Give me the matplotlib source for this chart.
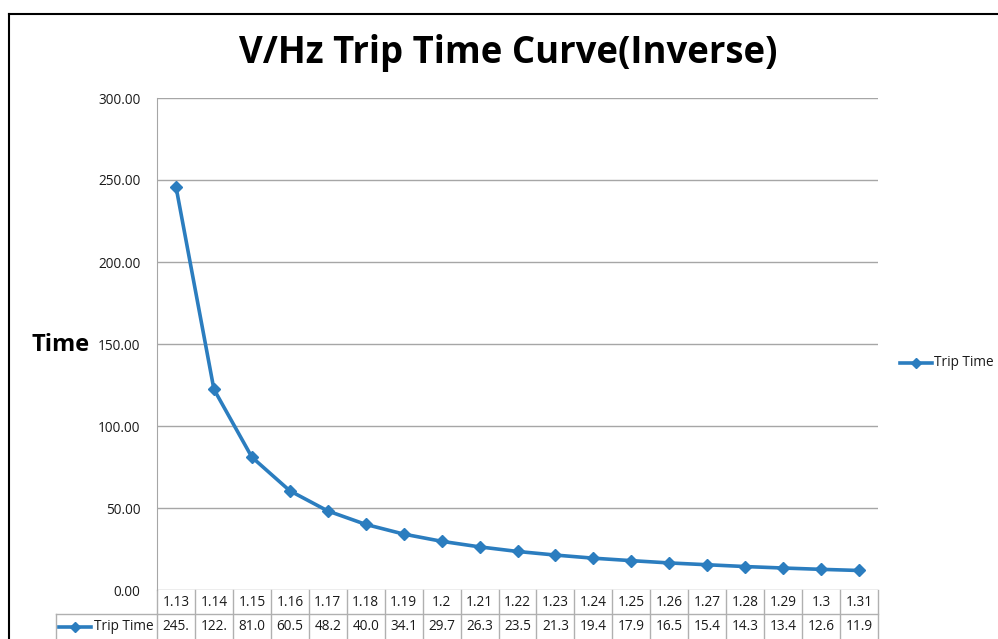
import matplotlib.pyplot as plt
from matplotlib.lines import Line2D
import numpy as np

# data
ratio = ["1.13", "1.14", "1.15", "1.16", "1.17", "1.18", "1.19", "1.2", "1.21", "1.22",
         "1.23", "1.24", "1.25", "1.26", "1.27", "1.28", "1.29", "1.3", "1.31"]
trip_time = [245.9, 122.4, 81.0, 60.5, 48.2, 40.0, 34.1, 29.7, 26.3, 23.5,
             21.3, 19.4, 17.9, 16.5, 15.4, 14.3, 13.4, 12.6, 11.9]
yticks = [0, 50, 100, 150, 200, 250, 300]

blue = "#2b7dbf"
grid_c = "#a6a6a6"
txt_c = "#1a1a1a"
font = "Open Sans"
fs = 9.8

W, H = 998, 639
fig = plt.figure(figsize=(W / 100, H / 100), dpi=100)

# outer chart border (top and left)
fig.add_artist(Line2D([9 / W, 9 / W], [0, 1 - 13.5 / H], color="black", lw=1.5))
fig.add_artist(Line2D([9 / W, 1], [1 - 13.5 / H, 1 - 13.5 / H], color="black", lw=1.5))

ax = fig.add_axes([157 / W, 1 - 590 / H, (878 - 157) / W, (590 - 98) / H])
x = np.arange(len(ratio))
ax.plot(x, trip_time, color=blue, lw=2.6, marker="D", ms=6.5, mec=blue, mfc=blue)
ax.set_xlim(-0.5, len(ratio) - 0.5)
ax.set_ylim(0, 300)
ax.set_yticks(yticks)
ax.set_yticklabels([f"{v:.2f}" for v in yticks], fontsize=fs, family=font, color=txt_c)
ax.tick_params(axis="y", length=0, pad=12)
ax.set_xticks([])
for s in ["top", "right", "bottom"]:
    ax.spines[s].set_visible(False)
ax.spines["left"].set_color(grid_c)
for v in yticks:
    ax.axhline(v, color=grid_c, lw=1, zorder=0)

# data table under the plot
tr = ax.get_xaxis_transform()
r1_top, r1_bot, r2_bot = 0.0, -24 / 492, -50 / 492
lc = "#b0b0b0"
for i, (r, t) in enumerate(zip(ratio, trip_time)):
    ax.text(i, (r1_top + r1_bot) / 2, r, transform=tr, ha="center", va="center",
            fontsize=fs, family=font, color=txt_c, clip_on=False)
    ax.text(i, (r1_bot + r2_bot) / 2 + 0.001, f"{t:.1f}"[:4], transform=tr, ha="center",
            va="center", fontsize=fs, family=font, color=txt_c, clip_on=False)
for i in range(len(ratio) + 1):
    ax.plot([i - 0.5, i - 0.5], [r1_top, r2_bot], transform=tr, color=lc, lw=1, clip_on=False)
ax.plot([-0.5, len(ratio) - 0.5], [r1_bot, r1_bot], transform=tr, color=lc, lw=1, clip_on=False)
# legend-key cell of the table
fig.add_artist(Line2D([55.5 / W, 157 / W], [1 - 614 / H] * 2, color=lc, lw=1))
fig.add_artist(Line2D([55.5 / W, 55.5 / W], [0, 1 - 614 / H], color=lc, lw=1))
fig.add_artist(Line2D([59 / W, 91 / W], [1 - 627 / H] * 2, color=blue, lw=2.6))
fig.add_artist(Line2D([75 / W], [1 - 627 / H], color=blue, marker="D", ms=5, lw=0))
fig.text(94 / W, 1 - 627 / H, "Trip Time", fontsize=fs, family=font, color=txt_c,
         va="center")

# title and axis label
fig.text(508 / W, 1 - 53 / H, "V/Hz Trip Time Curve(Inverse)", fontsize=26.3,
         fontweight="bold", family=font, ha="center", va="center")
fig.text(61 / W, 1 - 345 / H, "Time", fontsize=17, fontweight="bold", family=font,
         ha="center", va="center")

# legend on the right
fig.add_artist(Line2D([900 / W, 932 / W], [1 - 363 / H] * 2, color=blue, lw=2.6))
fig.add_artist(Line2D([916 / W], [1 - 363 / H], color=blue, marker="D", ms=5, lw=0))
fig.text(934 / W, 1 - 363 / H, "Trip Time", fontsize=fs, family=font, color=txt_c,
         va="center")

fig.savefig("out.png", dpi=100)
